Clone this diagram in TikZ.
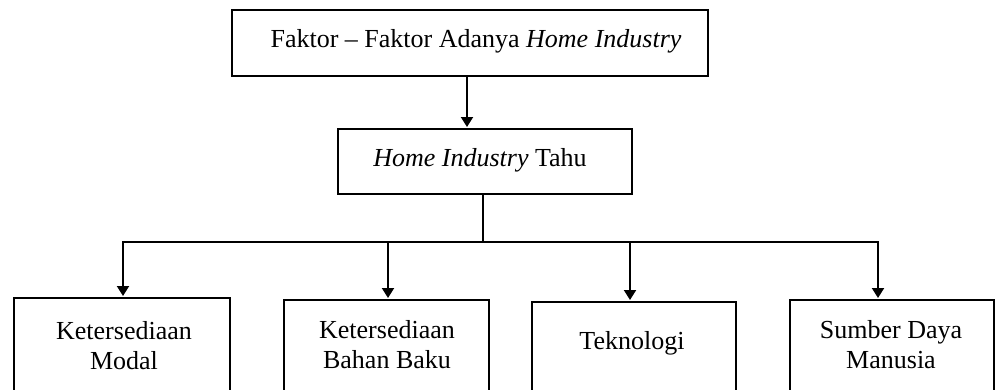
\documentclass[tikz,border=0pt]{standalone}
\usepackage{fontspec}
\setmainfont{Liberation Serif}
\usetikzlibrary{arrows.meta,calc}
\begin{document}
\begin{tikzpicture}[x=1pt,y=-1pt,
  box/.style={draw,line width=2pt,inner sep=0pt,anchor=north west},
  txt/.style={font=\fontsize{26}{30}\selectfont,align=center,inner sep=0pt},
  conn/.style={line width=2pt},
  arr/.style={conn,-{Triangle[length=10pt,width=12pt]}}]
\useasboundingbox (0,0) rectangle (995,389);
\clip (0,0) rectangle (995,389);
\node[box,minimum width=476,minimum height=66] (top) at (231,9) {};
\node[txt] (toptxt) at (476,41) {Faktor -- Faktor Adanya \textit{Home Industry}};
\node[box,minimum width=294,minimum height=65] (mid) at (337,128) {};
\node[txt] (midtxt) at (480,160) {\textit{Home Industry} Tahu};
\node[box,minimum width=216,minimum height=120] (b1) at (13,297) {};
\node[box,minimum width=205,minimum height=120] (b2) at (283,299) {};
\node[box,minimum width=204,minimum height=120] (b3) at (531,301) {};
\node[box,minimum width=204,minimum height=120] (b4) at (789,299) {};
\node[txt] (t1) at (124,346) {Ketersediaan\\Modal};
\node[txt] (t2) at (387,345) {Ketersediaan\\Bahan Baku};
\node[txt] (t3) at (632,343) {Teknologi};
\node[txt] (t4) at (891,345) {Sumber Daya\\Manusia};
\coordinate (j) at (483,242);
\draw[arr] (top.south -| 467,0) -- (467,127);
\draw[conn] (mid.south -| j) -- (j);
\draw[conn] (122,242) -- (879,242);
\draw[arr] (123,241) -- (123,296);
\draw[arr] (388,242) -- (388,298);
\draw[arr] (630,242) -- (630,300);
\draw[arr] (878,241) -- (878,298);
\end{tikzpicture}
\end{document}
